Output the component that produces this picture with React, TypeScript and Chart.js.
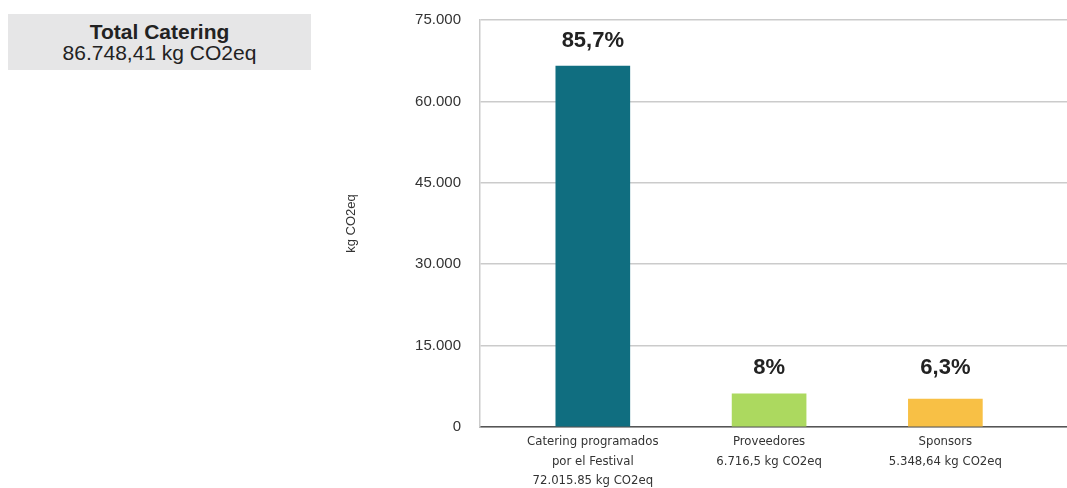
import React, { useEffect, useRef } from "react";
import { Chart, registerables } from "chart.js";

Chart.register(...registerables);

const categoryLabels: string[][] = [
  ["Catering programados", "por el Festival", "72.015.85 kg CO2eq"],
  ["Proveedores", "6.716,5 kg CO2eq"],
  ["Sponsors", "5.348,64 kg CO2eq"],
];
const categoryIndex = [0, 1, 2];
const values = [66500, 6100, 5150];
const percentLabels = ["85,7%", "8%", "6,3%"];
const barColors = ["#106e80", "#acd95f", "#f8c045"];
const yTicks = { min: 0, max: 75000, step: 15000 };
const totalTitle = "Total Catering";
const totalValue = "86.748,41 kg CO2eq";
const yTitle = "kg CO2eq";

const labelOffsets = [25, 26, 31];

const fmt = (v: number) =>
  String(Math.round(v)).replace(/\B(?=(\d{3})+(?!\d))/g, ".");

export default function App() {
  const ref = useRef<HTMLCanvasElement | null>(null);

  useEffect(() => {
    if (!ref.current) return;
    const pctPlugin = {
      id: "pctLabels",
      afterDatasetsDraw(chart: any) {
        const ctx = chart.ctx;
        const meta = chart.getDatasetMeta(0);
        ctx.save();
        ctx.font = "bold 22px 'Liberation Sans', Arial, sans-serif";
        ctx.fillStyle = "#222";
        ctx.textAlign = "center";
        ctx.textBaseline = "middle";
        meta.data.forEach((bar: any, i: number) => {
          ctx.fillText(percentLabels[i], bar.x, bar.y - labelOffsets[i]);
        });
        ctx.restore();
      },
    };
    const chart = new Chart(ref.current, {
      type: "bar",
      data: {
        datasets: [
          {
            data: categoryIndex.map((x, i) => ({ x, y: values[i] })) as any,
            backgroundColor: barColors,
            borderWidth: 0,
            barThickness: 74,
          },
        ],
      },
      options: {
        responsive: false,
        animation: false,
        layout: { padding: { top: 20, left: 0, right: 0, bottom: 0 } },
        plugins: {
          legend: { display: false },
          tooltip: { enabled: false },
        },
        scales: {
          x: {
            type: "linear",
            min: -0.64,
            max: 2.69,
            offset: false,
            grid: { display: false, drawTicks: false },
            border: { display: true, color: "#555", width: 1.5 },
            ticks: {
              stepSize: 1,
              includeBounds: false,
              autoSkip: false,
              maxRotation: 0,
              padding: 5,
              color: "#333",
              font: {
                family: "'Liberation Sans Narrow', 'DejaVu Sans Condensed', 'Liberation Sans', sans-serif",
                size: 13,
                lineHeight: 1.5,
              },
              callback: (v: any) => {
                const n = Number(v);
                return Number.isInteger(n) && categoryLabels[n] ? categoryLabels[n] : "";
              },
            },
            afterFit: (s: any) => {
              s.height = 61;
              s.paddingLeft = 0;
              s.paddingRight = 0;
            },
          },
          y: {
            min: yTicks.min,
            max: yTicks.max,
            grid: { color: "#cbcbcb", lineWidth: 1.5, drawTicks: false },
            border: { display: true, color: "#cbcbcb", width: 1.5 },
            ticks: {
              stepSize: yTicks.step,
              padding: 19,
              color: "#333",
              font: { family: "'Liberation Sans', Arial, sans-serif", size: 15 },
              callback: (v: any) => fmt(Number(v)),
            },
            title: {
              display: true,
              text: yTitle,
              color: "#333",
              font: { family: "'Liberation Sans', Arial, sans-serif", size: 13, lineHeight: 1.2 },
              padding: { top: 344, bottom: 0 },
            },
            afterFit: (s: any) => {
              s.width = 480;
              s.paddingTop = 0;
              s.paddingBottom = 0;
            },
          },
        },
      },
      plugins: [pctPlugin],
    });
    return () => chart.destroy();
  }, []);

  return (
    <div style={{ position: "fixed", left: 0, top: 0, width: 1067, height: 488, background: "#fff" }}>
      <canvas ref={ref} width={1067} height={488} style={{ display: "block" }} />
      <div
        style={{
          position: "absolute",
          left: 8,
          top: 14,
          width: 303,
          height: 56,
          background: "#e6e6e7",
          color: "#222",
          fontFamily: "'Liberation Sans', Arial, sans-serif",
          textAlign: "center",
          boxSizing: "border-box",
          paddingTop: 7,
          lineHeight: "21px",
        }}
      >
        <div style={{ fontWeight: "bold", fontSize: 21 }}>{totalTitle}</div>
        <div style={{ fontSize: 21 }}>{totalValue}</div>
      </div>
    </div>
  );
}
